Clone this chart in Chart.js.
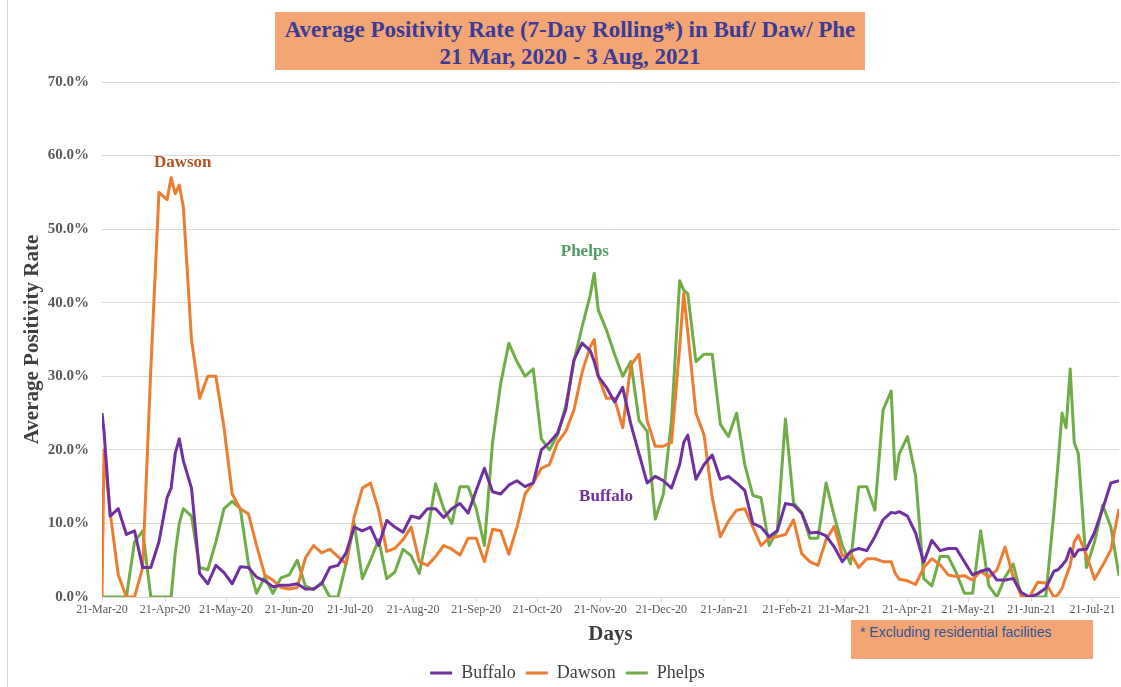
<!DOCTYPE html>
<html>
<head>
<meta charset="utf-8">
<title>Average Positivity Rate - Buf/ Daw/ Phe</title>
<script src="https://cdn.jsdelivr.net/npm/chart.js@4.4.1/dist/chart.umd.min.js"></script>
<style>
  body { margin: 0; background: #fff; }
  #wrap { position: relative; width: 1121px; height: 687px; overflow: hidden; }
  #frame { position: absolute; left: 7px; top: 0; height: 687px; border-left: 1px solid #d9d9d9; }
  #chartTitle {
    position: absolute; left: 275px; top: 12px; width: 590px; height: 58px;
    box-sizing: border-box; padding-top: 4px;
    background: #f3a673; color: #3b3b98; text-align: center; white-space: nowrap;
    font: bold 23px "Liberation Serif", serif; line-height: 27px;
  }
  #note {
    position: absolute; left: 851px; top: 620px; width: 242px; height: 39px;
    box-sizing: border-box; padding: 3px 0 0 9px;
    background: #f3a673; color: #2f5597;
    font: 14px "Liberation Sans", sans-serif; line-height: 18px; white-space: nowrap;
  }
  canvas { position: absolute; left: 0; top: 0; }
</style>
</head>
<body>
<div id="wrap">
  <canvas id="rateCanvas" width="1121" height="687"></canvas>
  <div id="frame"></div>
  <div id="chartTitle">Average Positivity Rate (7-Day Rolling*) in Buf/ Daw/ Phe<br>21 Mar, 2020 - 3 Aug, 2021</div>
  <div id="note">* Excluding residential facilities</div>
</div>
<script>
// days counted from 21-Mar-20 (day 0) up to 3-Aug-21 (day 500)
const days = [
  0,1,4,8,12,16,20,24,28,32,34,36,38,40,44,48,52,56,60,64,68,72,76,80,84,
  88,92,96,100,104,108,112,116,120,124,128,132,136,140,144,148,152,156,160,164,168,
  172,176,180,184,188,192,196,200,204,208,212,216,220,224,228,232,236,240,242,244,248,252,
  256,260,264,268,272,276,280,284,286,288,292,296,300,304,308,312,316,320,324,328,332,336,
  340,344,348,352,356,360,364,368,372,376,380,384,388,390,392,396,400,404,408,412,416,420,
  424,428,432,436,440,444,448,452,456,460,464,468,470,472,474,476,478,480,484,488,492,496,500
];

// average positivity rate, in percent
const buffaloRates = [
  25,22.5,11,12,8.5,9,4,4,7.5,13.5,14.8,19.5,21.5,18.5,14.8,3.2,1.8,4.3,3.3,1.8,4.1,4,2.7,2.2,1.4,
  1.6,1.6,1.8,1.1,1.1,1.8,4,4.3,6,9.5,9,9.5,7,10.4,9.5,8.8,11,10.7,12,12,10.8,
  12,12.7,11.4,14.5,17.5,14.3,14,15.2,15.8,15,15.5,20,21,22.3,25.5,32.2,34.5,33.5,32,30,28.5,26.5,
  28.5,23.5,19.5,15.5,16.4,15.8,14.8,18,21,22,16,18,19.3,16,16.4,15.5,14.5,10,9.5,8.2,9,12.7,
  12.5,11.4,8.7,8.8,8.3,6.8,4.8,6.2,6.6,6.3,8.2,10.5,11.5,11.4,11.6,11,8.7,4.7,7.7,6.3,6.6,6.6,
  4.8,3,3.5,3.8,2.3,2.3,2.5,0.6,0,0.4,1.2,3.5,3.7,4.3,5,6.6,5.5,6.4,6.5,8.8,12,15.5,15.8
];
const dawsonRates = [
  0,20,11.5,3,0,0,4,31,55,54,57,54.8,56,53,35,27,30,30,23,14,12,11.3,7,3,2.3,
  1.3,1.1,1.3,5.3,7,6,6.5,5.5,4.5,10.9,14.8,15.5,11.8,6.2,6.6,7.8,9.5,4.8,4.3,5.5,7,
  6.5,5.7,8,8,4.8,9.2,9,5.8,9.5,14,15.5,17.5,18,21,22.5,25.4,30.5,34,35,30,27,27,
  23,31.5,33,24,20.5,20.5,21,34,41.3,36,25,22,13.5,8.2,10.3,11.8,12,9.5,7,8,8.2,8.5,
  10.5,5.9,4.8,4.3,7.8,9.6,5.6,5.9,4,5.2,5.2,4.8,4.8,3.2,2.4,2.2,1.7,4,5.2,4.4,3,2.8,
  2.9,2.3,3.5,2.7,3.7,6.8,2.7,0.2,0,2,1.9,0,0.3,1.2,2.8,4.3,7.5,8.4,5.7,2.4,4.3,6.4,12
];
const phelpsRates = [
  0,0,0,0,0,7.5,9,0,0,0,0,6,10,12,11,4,3.7,7.5,12,13,12,4.5,0.5,2.7,0.5,
  2.6,3,5,1.5,1,2,0,0,4.5,10,2.5,5,7.8,2.5,3.4,6.5,5.6,3.2,8.8,15.4,12,
  10,15,15,12,7,21,29,34.5,32,30,31,21.5,20,22,26,32,36.7,41,44,39,36.3,33,
  30,32,24,22.5,10.6,14,24,43,41.7,41.2,32,33,33,23.5,21.8,25,18,13.8,13.5,7,9,24.2,
  12.8,11.5,8,8,15.5,11,7,4.5,15,15,11.8,25.4,28,16,19.5,21.8,16.5,2.5,1.5,5.5,5.5,3.3,
  0.5,0.5,9,1.5,0,2.7,4.5,0,0,0,0,11.5,18,25,23,31,21,19.5,4,7.5,12.5,9.5,2.9
];

const seriesNames = ['Buffalo', 'Dawson', 'Phelps'];
const seriesColors = ['#7030a0', '#ed7d31', '#70ad47'];

// x axis ticks fall on the 21st of each month
const tickDays = [0,31,61,92,122,153,184,214,245,275,306,337,365,396,426,457,487];
const tickLabels = ['21-Mar-20','21-Apr-20','21-May-20','21-Jun-20','21-Jul-20','21-Aug-20',
  '21-Sep-20','21-Oct-20','21-Nov-20','21-Dec-20','21-Jan-21','21-Feb-21','21-Mar-21',
  '21-Apr-21','21-May-21','21-Jun-21','21-Jul-21'];

// name tags written inside the plot
const nameTags = [
  { text: 'Dawson', day: 39.7, rate: 59.1, color: '#b4541f' },
  { text: 'Phelps', day: 237.4, rate: 47.0, color: '#4e9e62' },
  { text: 'Buffalo', day: 247.8, rate: 13.6, color: '#7030a0' }
];

class PositivityChart {
  constructor() {
    this.$canvas = document.querySelector('#rateCanvas');
    this.chart;
    Chart.defaults.font.family = '"Liberation Serif", serif';
    this.createChart();
  }

  buildDatasets() {
    const rates = [buffaloRates, dawsonRates, phelpsRates];
    return seriesNames.map((name, i) => ({
      label: name,
      data: days.map((d, j) => ({ x: d, y: rates[i][j] })),
      borderColor: seriesColors[i],
      backgroundColor: seriesColors[i],
      borderWidth: 3,
      pointRadius: 0,
      tension: 0,
      borderJoinStyle: 'round'
    }));
  }

  createChart() {
    const tagPlugin = {
      id: 'nameTags',
      afterDatasetsDraw(chart) {
        const { ctx, scales: { x, y } } = chart;
        ctx.save();
        ctx.font = 'bold 17px "Liberation Serif", serif';
        ctx.textAlign = 'center';
        ctx.textBaseline = 'middle';
        nameTags.forEach(tag => {
          ctx.fillStyle = tag.color;
          ctx.fillText(tag.text, x.getPixelForValue(tag.day), y.getPixelForValue(tag.rate));
        });
        ctx.restore();
      }
    };

    this.chart = new Chart(this.$canvas, {
      type: 'line',
      data: { datasets: this.buildDatasets() },
      plugins: [tagPlugin],
      options: {
        responsive: false,
        animation: false,
        devicePixelRatio: 1,
        layout: { padding: { left: 16, right: 2, top: 82, bottom: -5 } },
        plugins: {
          title: { display: false },
          tooltip: { enabled: false },
          legend: {
            position: 'bottom',
            labels: {
              usePointStyle: true,
              pointStyle: 'line',
              pointStyleWidth: 22,
              padding: 10,
              color: '#404040',
              font: { size: 18 }
            }
          }
        },
        scales: {
          x: {
            type: 'linear',
            min: 0,
            max: 500,
            afterBuildTicks: scale => { scale.ticks = tickDays.map(v => ({ value: v })); },
            afterFit: scale => { scale.height = 57; },
            ticks: {
              autoSkip: false,
              maxRotation: 0,
              minRotation: 0,
              padding: 1,
              color: '#595959',
              font: { size: 12 },
              callback: (value, index) => tickLabels[index]
            },
            grid: { drawOnChartArea: false, drawTicks: true, tickLength: 5, color: '#d9d9d9' },
            border: { color: '#d9d9d9' },
            title: {
              display: true,
              text: 'Days',
              color: '#404040',
              font: { size: 21, weight: 'bold' },
              padding: { top: 4, bottom: 7 }
            }
          },
          y: {
            min: 0,
            max: 70,
            afterFit: scale => { scale.width = 86; },
            ticks: {
              stepSize: 10,
              padding: 13,
              color: '#595959',
              font: { size: 15, weight: 'bold' },
              callback: v => v.toFixed(1) + '%'
            },
            grid: { color: '#d9d9d9', drawTicks: false },
            border: { display: false },
            title: {
              display: true,
              text: 'Average Positivity Rate',
              color: '#404040',
              font: { size: 21, weight: 'bold' },
              padding: { top: 4, bottom: 4 }
            }
          }
        }
      }
    });
  }
}

window.onload = function() {
  new PositivityChart();
};
</script>
</body>
</html>
